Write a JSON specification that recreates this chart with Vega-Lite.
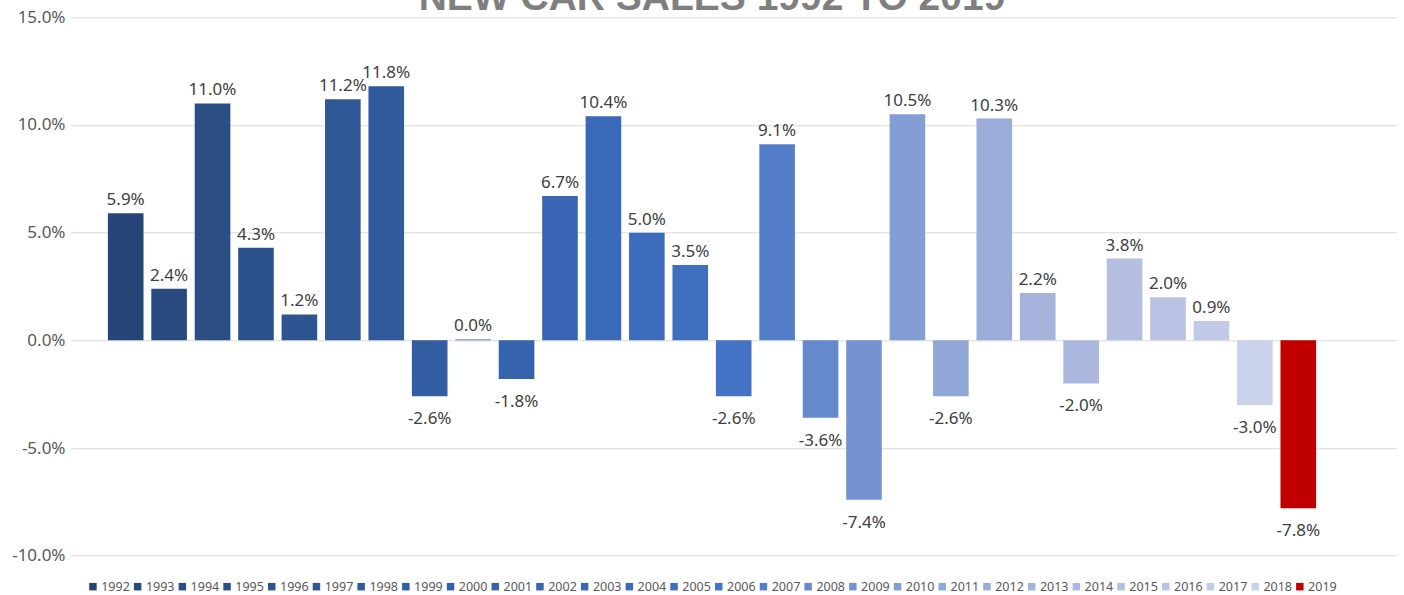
{
  "$schema": "https://vega.github.io/schema/vega-lite/v6.json",
  "autosize": {"type": "none"},
  "width": 1326,
  "height": 538.4,
  "padding": {"left": 70.7, "top": 17.3, "right": 7.3, "bottom": 39.3},
  "background": "white",
  "title": {
    "text": "NEW CAR SALES 1992 TO 2019",
    "font": "Liberation Sans",
    "fontWeight": "bold",
    "fontSize": 39,
    "color": "#7f7f7f",
    "anchor": "middle",
    "frame": "group",
    "baseline": "alphabetic",
    "offset": 4.6,
    "dy": 45,
    "dx": -21.7
  },
  "config": {
    "view": {"stroke": null},
    "locale": {"number": {"decimal": ".", "thousands": ",", "grouping": [3], "currency": ["$", ""], "minus": "-"}}
  },
  "data": {
    "values": [
      {"year": "1992", "value": 0.059},
      {"year": "1993", "value": 0.024},
      {"year": "1994", "value": 0.110},
      {"year": "1995", "value": 0.043},
      {"year": "1996", "value": 0.012},
      {"year": "1997", "value": 0.112},
      {"year": "1998", "value": 0.118},
      {"year": "1999", "value": -0.026},
      {"year": "2000", "value": 0.0004},
      {"year": "2001", "value": -0.018},
      {"year": "2002", "value": 0.067},
      {"year": "2003", "value": 0.104},
      {"year": "2004", "value": 0.050},
      {"year": "2005", "value": 0.035},
      {"year": "2006", "value": -0.026},
      {"year": "2007", "value": 0.091},
      {"year": "2008", "value": -0.036},
      {"year": "2009", "value": -0.074},
      {"year": "2010", "value": 0.105},
      {"year": "2011", "value": -0.026},
      {"year": "2012", "value": 0.103},
      {"year": "2013", "value": 0.022},
      {"year": "2014", "value": -0.020},
      {"year": "2015", "value": 0.038},
      {"year": "2016", "value": 0.020},
      {"year": "2017", "value": 0.009},
      {"year": "2018", "value": -0.030},
      {"year": "2019", "value": -0.078}
    ]
  },
  "encoding": {
    "x": {
      "field": "year",
      "type": "nominal",
      "axis": null,
      "scale": {
        "domain": ["1992","1993","1994","1995","1996","1997","1998","1999","2000","2001","2002","2003","2004","2005","2006","2007","2008","2009","2010","2011","2012","2013","2014","2015","2016","2017","2018","2019",""],
        "paddingInner": 0.18, "paddingOuter": 0.856, "align": 0.5
      }
    },
    "y": {
      "field": "value",
      "type": "quantitative",
      "scale": {"domain": [-0.1, 0.15], "nice": false, "zero": true},
      "axis": {
        "title": null,
        "format": ".1%",
        "values": [-0.1, -0.05, 0, 0.05, 0.1, 0.15],
        "domain": false,
        "ticks": false,
        "labelPadding": 5.7,
        "labelFont": "Noto Sans",
        "labelFontSize": 17,
        "labelColor": "#595959",
        "gridColor": "#d9d9d9",
        "gridWidth": 1
      }
    }
  },
  "layer": [
    {
      "mark": {"type": "bar"},
      "encoding": {
        "color": {
          "field": "year",
          "type": "nominal",
          "sort": "ascending",
          "scale": {
            "domain": ["1992","1993","1994","1995","1996","1997","1998","1999","2000","2001","2002","2003","2004","2005","2006","2007","2008","2009","2010","2011","2012","2013","2014","2015","2016","2017","2018","2019"],
            "range": ["#264478","#284a7e","#2a4d84","#2c518a","#2d5490","#2f5796","#305a9c","#325da2","#3460a8","#3663ae","#3866b4","#3a69b9","#3d6cbd","#406fc0","#4472c4","#547ec9","#6589cc","#7592d0","#849ed5","#92a8d8","#9cacd8","#a4b2dc","#acb7e0","#b3bee1","#bac3e3","#c2c9e6","#cad1ea","#c00000"]
          },
          "legend": {
            "title": null,
            "orient": "none",
            "direction": "horizontal",
            "columns": 28,
            "legendX": 16,
            "legendY": 563,
            "symbolType": "square",
            "symbolSize": 56,
            "symbolStrokeWidth": 0,
            "labelFont": "Noto Sans",
            "labelFontSize": 12.5,
            "labelColor": "#595959",
            "labelOffset": 2,
            "columnPadding": 0.7,
            "padding": 0
          }
        }
      }
    },
    {
      "transform": [{"filter": "datum.value >= 0"}],
      "mark": {"type": "text", "baseline": "alphabetic", "dy": -8, "font": "Noto Sans", "fontSize": 17, "color": "#404040"},
      "encoding": {"text": {"field": "value", "type": "quantitative", "format": ".1%"}}
    },
    {
      "transform": [{"filter": "datum.value < 0"}],
      "mark": {"type": "text", "baseline": "top", "dy": 15, "font": "Noto Sans", "fontSize": 17, "color": "#404040"},
      "encoding": {"text": {"field": "value", "type": "quantitative", "format": ".1%"}}
    }
  ]
}
